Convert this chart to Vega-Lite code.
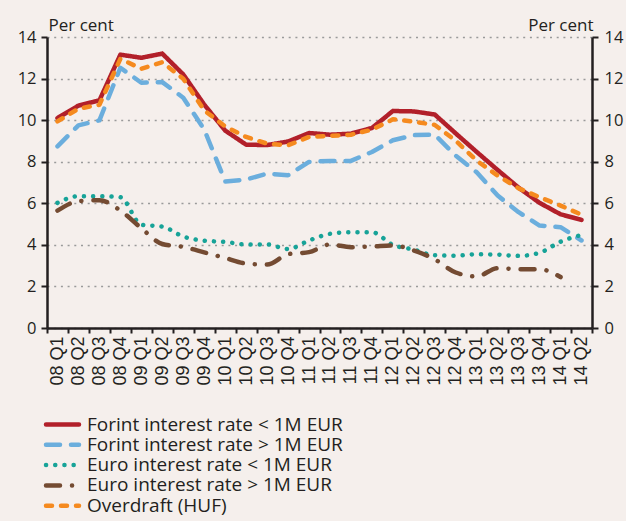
{
  "$schema": "https://vega.github.io/schema/vega-lite/v6.json",
  "width": 545,
  "height": 291,
  "autosize": "none",
  "padding": {"left": 47, "top": 37, "right": 34, "bottom": 193},
  "background": "#F5EFEC",
  "config": {"view": {"stroke": null}, "font": "Open Sans"},
  "data": {"values": [
    {"q":"08 Q1","s":"Forint interest rate < 1M EUR","v":10.1},
    {"q":"08 Q2","s":"Forint interest rate < 1M EUR","v":10.7},
    {"q":"08 Q3","s":"Forint interest rate < 1M EUR","v":10.95},
    {"q":"08 Q4","s":"Forint interest rate < 1M EUR","v":13.15},
    {"q":"09 Q1","s":"Forint interest rate < 1M EUR","v":13.0},
    {"q":"09 Q2","s":"Forint interest rate < 1M EUR","v":13.2},
    {"q":"09 Q3","s":"Forint interest rate < 1M EUR","v":12.2},
    {"q":"09 Q4","s":"Forint interest rate < 1M EUR","v":10.75},
    {"q":"10 Q1","s":"Forint interest rate < 1M EUR","v":9.5},
    {"q":"10 Q2","s":"Forint interest rate < 1M EUR","v":8.82},
    {"q":"10 Q3","s":"Forint interest rate < 1M EUR","v":8.8},
    {"q":"10 Q4","s":"Forint interest rate < 1M EUR","v":8.97},
    {"q":"11 Q1","s":"Forint interest rate < 1M EUR","v":9.38},
    {"q":"11 Q2","s":"Forint interest rate < 1M EUR","v":9.3},
    {"q":"11 Q3","s":"Forint interest rate < 1M EUR","v":9.35},
    {"q":"11 Q4","s":"Forint interest rate < 1M EUR","v":9.62},
    {"q":"12 Q1","s":"Forint interest rate < 1M EUR","v":10.44},
    {"q":"12 Q2","s":"Forint interest rate < 1M EUR","v":10.42},
    {"q":"12 Q3","s":"Forint interest rate < 1M EUR","v":10.27},
    {"q":"12 Q4","s":"Forint interest rate < 1M EUR","v":9.36},
    {"q":"13 Q1","s":"Forint interest rate < 1M EUR","v":8.47},
    {"q":"13 Q2","s":"Forint interest rate < 1M EUR","v":7.6},
    {"q":"13 Q3","s":"Forint interest rate < 1M EUR","v":6.75},
    {"q":"13 Q4","s":"Forint interest rate < 1M EUR","v":6.02},
    {"q":"14 Q1","s":"Forint interest rate < 1M EUR","v":5.47},
    {"q":"14 Q2","s":"Forint interest rate < 1M EUR","v":5.2},
    {"q":"08 Q1","s":"Forint interest rate > 1M EUR","v":8.74},
    {"q":"08 Q2","s":"Forint interest rate > 1M EUR","v":9.75},
    {"q":"08 Q3","s":"Forint interest rate > 1M EUR","v":9.99},
    {"q":"08 Q4","s":"Forint interest rate > 1M EUR","v":12.52},
    {"q":"09 Q1","s":"Forint interest rate > 1M EUR","v":11.8},
    {"q":"09 Q2","s":"Forint interest rate > 1M EUR","v":11.83},
    {"q":"09 Q3","s":"Forint interest rate > 1M EUR","v":11.08},
    {"q":"09 Q4","s":"Forint interest rate > 1M EUR","v":9.55},
    {"q":"10 Q1","s":"Forint interest rate > 1M EUR","v":7.05},
    {"q":"10 Q2","s":"Forint interest rate > 1M EUR","v":7.14},
    {"q":"10 Q3","s":"Forint interest rate > 1M EUR","v":7.43},
    {"q":"10 Q4","s":"Forint interest rate > 1M EUR","v":7.35},
    {"q":"11 Q1","s":"Forint interest rate > 1M EUR","v":7.99},
    {"q":"11 Q2","s":"Forint interest rate > 1M EUR","v":8.04},
    {"q":"11 Q3","s":"Forint interest rate > 1M EUR","v":8.04},
    {"q":"11 Q4","s":"Forint interest rate > 1M EUR","v":8.47},
    {"q":"12 Q1","s":"Forint interest rate > 1M EUR","v":9.03},
    {"q":"12 Q2","s":"Forint interest rate > 1M EUR","v":9.28},
    {"q":"12 Q3","s":"Forint interest rate > 1M EUR","v":9.3},
    {"q":"12 Q4","s":"Forint interest rate > 1M EUR","v":8.29},
    {"q":"13 Q1","s":"Forint interest rate > 1M EUR","v":7.49},
    {"q":"13 Q2","s":"Forint interest rate > 1M EUR","v":6.37},
    {"q":"13 Q3","s":"Forint interest rate > 1M EUR","v":5.57},
    {"q":"13 Q4","s":"Forint interest rate > 1M EUR","v":4.93},
    {"q":"14 Q1","s":"Forint interest rate > 1M EUR","v":4.85},
    {"q":"14 Q2","s":"Forint interest rate > 1M EUR","v":4.21},
    {"q":"08 Q1","s":"Euro interest rate < 1M EUR","v":6.02},
    {"q":"08 Q2","s":"Euro interest rate < 1M EUR","v":6.34},
    {"q":"08 Q3","s":"Euro interest rate < 1M EUR","v":6.34},
    {"q":"08 Q4","s":"Euro interest rate < 1M EUR","v":6.29},
    {"q":"09 Q1","s":"Euro interest rate < 1M EUR","v":4.97},
    {"q":"09 Q2","s":"Euro interest rate < 1M EUR","v":4.88},
    {"q":"09 Q3","s":"Euro interest rate < 1M EUR","v":4.4},
    {"q":"09 Q4","s":"Euro interest rate < 1M EUR","v":4.2},
    {"q":"10 Q1","s":"Euro interest rate < 1M EUR","v":4.14},
    {"q":"10 Q2","s":"Euro interest rate < 1M EUR","v":4.02},
    {"q":"10 Q3","s":"Euro interest rate < 1M EUR","v":4.02},
    {"q":"10 Q4","s":"Euro interest rate < 1M EUR","v":3.8},
    {"q":"11 Q1","s":"Euro interest rate < 1M EUR","v":4.21},
    {"q":"11 Q2","s":"Euro interest rate < 1M EUR","v":4.53},
    {"q":"11 Q3","s":"Euro interest rate < 1M EUR","v":4.61},
    {"q":"11 Q4","s":"Euro interest rate < 1M EUR","v":4.61},
    {"q":"12 Q1","s":"Euro interest rate < 1M EUR","v":4.0},
    {"q":"12 Q2","s":"Euro interest rate < 1M EUR","v":3.77},
    {"q":"12 Q3","s":"Euro interest rate < 1M EUR","v":3.5},
    {"q":"12 Q4","s":"Euro interest rate < 1M EUR","v":3.48},
    {"q":"13 Q1","s":"Euro interest rate < 1M EUR","v":3.55},
    {"q":"13 Q2","s":"Euro interest rate < 1M EUR","v":3.53},
    {"q":"13 Q3","s":"Euro interest rate < 1M EUR","v":3.47},
    {"q":"13 Q4","s":"Euro interest rate < 1M EUR","v":3.62},
    {"q":"14 Q1","s":"Euro interest rate < 1M EUR","v":4.15},
    {"q":"14 Q2","s":"Euro interest rate < 1M EUR","v":4.48},
    {"q":"08 Q1","s":"Euro interest rate > 1M EUR","v":5.65},
    {"q":"08 Q2","s":"Euro interest rate > 1M EUR","v":6.1},
    {"q":"08 Q3","s":"Euro interest rate > 1M EUR","v":6.15},
    {"q":"08 Q4","s":"Euro interest rate > 1M EUR","v":5.65},
    {"q":"09 Q1","s":"Euro interest rate > 1M EUR","v":4.8},
    {"q":"09 Q2","s":"Euro interest rate > 1M EUR","v":4.04},
    {"q":"09 Q3","s":"Euro interest rate > 1M EUR","v":3.9},
    {"q":"09 Q4","s":"Euro interest rate > 1M EUR","v":3.64},
    {"q":"10 Q1","s":"Euro interest rate > 1M EUR","v":3.37},
    {"q":"10 Q2","s":"Euro interest rate > 1M EUR","v":3.1},
    {"q":"10 Q3","s":"Euro interest rate > 1M EUR","v":3.05},
    {"q":"10 Q4","s":"Euro interest rate > 1M EUR","v":3.55},
    {"q":"11 Q1","s":"Euro interest rate > 1M EUR","v":3.65},
    {"q":"11 Q2","s":"Euro interest rate > 1M EUR","v":4.02},
    {"q":"11 Q3","s":"Euro interest rate > 1M EUR","v":3.89},
    {"q":"11 Q4","s":"Euro interest rate > 1M EUR","v":3.92},
    {"q":"12 Q1","s":"Euro interest rate > 1M EUR","v":3.97},
    {"q":"12 Q2","s":"Euro interest rate > 1M EUR","v":3.73},
    {"q":"12 Q3","s":"Euro interest rate > 1M EUR","v":3.3},
    {"q":"12 Q4","s":"Euro interest rate > 1M EUR","v":2.67},
    {"q":"13 Q1","s":"Euro interest rate > 1M EUR","v":2.48},
    {"q":"13 Q2","s":"Euro interest rate > 1M EUR","v":2.88},
    {"q":"13 Q3","s":"Euro interest rate > 1M EUR","v":2.83},
    {"q":"13 Q4","s":"Euro interest rate > 1M EUR","v":2.83},
    {"q":"14 Q1","s":"Euro interest rate > 1M EUR","v":2.45},
    {"q":"08 Q1","s":"Overdraft (HUF)","v":9.94},
    {"q":"08 Q2","s":"Overdraft (HUF)","v":10.55},
    {"q":"08 Q3","s":"Overdraft (HUF)","v":10.74},
    {"q":"08 Q4","s":"Overdraft (HUF)","v":12.95},
    {"q":"09 Q1","s":"Overdraft (HUF)","v":12.47},
    {"q":"09 Q2","s":"Overdraft (HUF)","v":12.79},
    {"q":"09 Q3","s":"Overdraft (HUF)","v":11.99},
    {"q":"09 Q4","s":"Overdraft (HUF)","v":10.47},
    {"q":"10 Q1","s":"Overdraft (HUF)","v":9.7},
    {"q":"10 Q2","s":"Overdraft (HUF)","v":9.19},
    {"q":"10 Q3","s":"Overdraft (HUF)","v":8.87},
    {"q":"10 Q4","s":"Overdraft (HUF)","v":8.79},
    {"q":"11 Q1","s":"Overdraft (HUF)","v":9.19},
    {"q":"11 Q2","s":"Overdraft (HUF)","v":9.24},
    {"q":"11 Q3","s":"Overdraft (HUF)","v":9.3},
    {"q":"11 Q4","s":"Overdraft (HUF)","v":9.54},
    {"q":"12 Q1","s":"Overdraft (HUF)","v":10.04},
    {"q":"12 Q2","s":"Overdraft (HUF)","v":9.93},
    {"q":"12 Q3","s":"Overdraft (HUF)","v":9.77},
    {"q":"12 Q4","s":"Overdraft (HUF)","v":9.01},
    {"q":"13 Q1","s":"Overdraft (HUF)","v":8.05},
    {"q":"13 Q2","s":"Overdraft (HUF)","v":7.33},
    {"q":"13 Q3","s":"Overdraft (HUF)","v":6.72},
    {"q":"13 Q4","s":"Overdraft (HUF)","v":6.29},
    {"q":"14 Q1","s":"Overdraft (HUF)","v":5.89},
    {"q":"14 Q2","s":"Overdraft (HUF)","v":5.45}
  ]},
  "layer": [
    {
      "encoding": {
        "x": {
          "field": "q", "type": "ordinal", "sort": null, "bandPosition": 0.5,
          "scale": {"type": "band", "paddingInner": 0, "paddingOuter": 0},
          "axis": {
            "title": null, "labelAngle": -90, "labelFont": "Liberation Sans", "labelFontSize": 18,
            "labelColor": "#231F20", "tickBand": "extent", "tickSize": 5, "tickWidth": 2,
            "tickColor": "#231F20", "domainColor": "#231F20", "domainWidth": 2.5,
            "labelPadding": 3, "grid": false
          }
        },
        "y": {
          "field": "v", "type": "quantitative",
          "scale": {"domain": [0, 14], "nice": false},
          "axis": {
            "values": [0, 2, 4, 6, 8, 10, 12, 14],
            "title": "Per cent", "titleAngle": 0, "titleAlign": "left", "titleBaseline": "alphabetic",
            "titleX": 1, "titleY": -7, "titleFont": "Open Sans", "titleFontSize": 17,
            "titleFontWeight": "normal", "titleColor": "#231F20",
            "labelFont": "Open Sans", "labelFontSize": 16.5, "labelColor": "#231F20", "labelPadding": 5,
            "tickSize": 6, "tickWidth": 2, "tickColor": "#231F20",
            "domainColor": "#231F20", "domainWidth": 2.5,
            "grid": true, "gridColor": "#9A9A9A", "gridDash": [2, 4.7], "gridWidth": 1.5
          }
        },
        "color": {
          "field": "s", "type": "nominal", "title": null,
          "scale": {
            "domain": ["Forint interest rate < 1M EUR", "Forint interest rate > 1M EUR", "Euro interest rate < 1M EUR", "Euro interest rate > 1M EUR", "Overdraft (HUF)"],
            "range": ["#B2202A", "#6BAEDD", "#17A398", "#744B32", "#F58A1F"]
          },
          "legend": {
            "orient": "none", "legendX": 6, "legendY": 378, "direction": "vertical", "padding": 0,
            "symbolType": "M-3,0H3", "symbolSize": 121, "symbolStrokeWidth": 4.5,
            "labelFont": "Open Sans", "labelFontSize": 19, "labelColor": "#231F20",
            "labelOffset": 15, "labelLimit": 400, "rowPadding": 0.3,
            "encode": {"symbols": {"update": {"strokeCap": {"value": "round"}}}}
          }
        },
        "strokeDash": {
          "field": "s", "type": "nominal", "title": null,
          "scale": {
            "domain": ["Forint interest rate < 1M EUR", "Forint interest rate > 1M EUR", "Euro interest rate < 1M EUR", "Euro interest rate > 1M EUR", "Overdraft (HUF)"],
            "range": [[1, 0], [14, 11], [0.1, 9.1], [14, 12, 0.1, 12], [6, 9]]
          },
          "legend": {
            "orient": "none", "legendX": 6, "legendY": 378, "direction": "vertical", "padding": 0,
            "symbolType": "M-3,0H3", "symbolSize": 121, "symbolStrokeWidth": 4.5,
            "labelFont": "Open Sans", "labelFontSize": 19, "labelColor": "#231F20",
            "labelOffset": 15, "labelLimit": 400, "rowPadding": 0.3,
            "encode": {"symbols": {"update": {"strokeCap": {"value": "round"}}}}
          }
        }
      },
      "layer": [
        {
          "transform": [{"filter": {"field": "s", "oneOf": ["Forint interest rate < 1M EUR", "Forint interest rate > 1M EUR"]}}],
          "mark": {"type": "line", "strokeWidth": 4.5, "strokeCap": "round", "strokeJoin": "round"}
        },
        {
          "transform": [{"filter": {"field": "s", "oneOf": ["Euro interest rate < 1M EUR", "Euro interest rate > 1M EUR"]}}],
          "mark": {"type": "line", "strokeWidth": 4.5, "strokeCap": "round", "strokeJoin": "round", "interpolate": "monotone"}
        },
        {
          "transform": [{"filter": {"field": "s", "equal": "Overdraft (HUF)"}}],
          "mark": {"type": "line", "strokeWidth": 4.5, "strokeCap": "round", "strokeJoin": "round"}
        }
      ]
    },
    {
      "mark": {"type": "rule", "strokeOpacity": 0},
      "encoding": {
        "y": {
          "field": "v", "type": "quantitative",
          "scale": {"domain": [0, 14], "nice": false},
          "axis": {
            "orient": "right",
            "values": [0, 2, 4, 6, 8, 10, 12, 14],
            "title": "Per cent", "titleAngle": 0, "titleAlign": "right", "titleBaseline": "alphabetic",
            "titleX": 1, "titleY": -7, "titleFont": "Open Sans", "titleFontSize": 17,
            "titleFontWeight": "normal", "titleColor": "#231F20",
            "labelFont": "Open Sans", "labelFontSize": 16.5, "labelColor": "#231F20", "labelPadding": 6,
            "tickSize": 6, "tickWidth": 2, "tickColor": "#231F20",
            "domainColor": "#231F20", "domainWidth": 2.5, "grid": false
          }
        }
      }
    }
  ],
  "resolve": {"axis": {"y": "independent"}}
}
